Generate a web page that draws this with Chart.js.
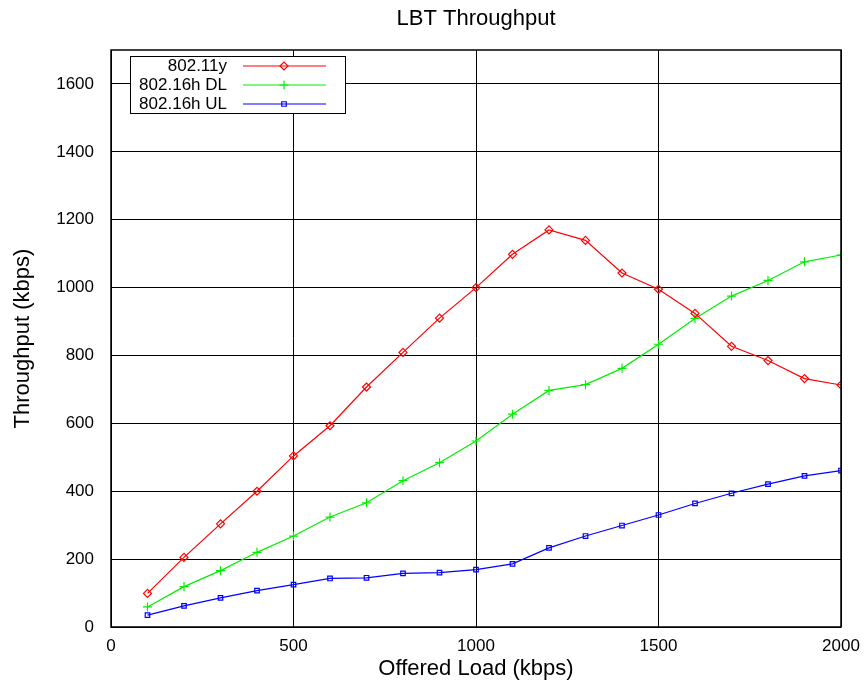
<!DOCTYPE html>
<html>
<head>
<meta charset="utf-8">
<script src="https://cdn.jsdelivr.net/npm/chart.js@4/dist/chart.umd.min.js"></script>
<style>
  html, body { margin: 0; padding: 0; background: #ffffff; }
  canvas { display: block; }
</style>
</head>
<body>
<canvas id="c" width="867" height="688"></canvas>
<script>
// Offered load (kbps)
const offeredLoad = [100, 200, 300, 400, 500, 600, 700, 800, 900, 1000,
                     1100, 1200, 1300, 1400, 1500, 1600, 1700, 1800, 1900, 2000];
// Measured throughput (kbps)
const wifi11y = [99, 205, 304, 400, 504, 593, 707, 809, 910, 1000,
                 1098, 1170, 1139, 1043, 995, 924, 827, 785, 732, 713];
const wimaxDL = [59, 119, 166, 220, 268, 324, 366, 431, 484, 548,
                 627, 697, 714, 762, 833, 909, 975, 1021, 1076, 1096];
const wimaxUL = [35, 62, 86, 107, 125, 143, 145, 158, 160, 169,
                 186, 233, 268, 299, 330, 364, 394, 421, 445, 461];
const seriesNames = ['802.11y', '802.16h DL', '802.16h UL'];
const xTicks = [0, 500, 1000, 1500, 2000];
const yTicks = [0, 200, 400, 600, 800, 1000, 1200, 1400, 1600];

const FONT = '"Liberation Sans", Arial, Helvetica, sans-serif';

function pts(ys) { return offeredLoad.map((x, i) => ({ x: x, y: ys[i] })); }

const styles = [
  { color: '#ff0000', pointStyle: 'rectRot', radius: 4 },
  { color: '#00ee00', pointStyle: 'cross', radius: 4.5 },
  { color: '#0000ff', pointStyle: 'rect', radius: 3.2 }
];

const datasets = [wifi11y, wimaxDL, wimaxUL].map((ys, i) => ({
  label: seriesNames[i],
  data: pts(ys),
  borderColor: styles[i].color,
  backgroundColor: 'rgba(0,0,0,0)',
  borderWidth: 1.2,
  pointStyle: styles[i].pointStyle,
  pointRadius: styles[i].radius,
  pointBorderWidth: 1.2,
  pointBorderColor: styles[i].color,
  pointBackgroundColor: 'rgba(0,0,0,0)',
  tension: 0
}));

// Frame, titles and key drawn on top of the plot
const decorations = {
  id: 'decorations',
  afterDraw(chart) {
    const ctx = chart.ctx;
    const a = chart.chartArea;
    ctx.save();
    // full border around the plot
    ctx.strokeStyle = '#000';
    ctx.lineWidth = 1.5;
    ctx.strokeRect(a.left, a.top, a.right - a.left, a.bottom - a.top);

    // titles
    ctx.fillStyle = '#000';
    ctx.textAlign = 'center';
    ctx.textBaseline = 'middle';
    ctx.font = '22px ' + FONT;
    ctx.fillText('LBT Throughput', (a.left + a.right) / 2, 19);
    ctx.font = '22px ' + FONT;
    ctx.fillText('Offered Load (kbps)', (a.left + a.right) / 2, 669);
    ctx.save();
    ctx.translate(23, (a.top + a.bottom) / 2);
    ctx.rotate(-Math.PI / 2);
    ctx.fillText('Throughput (kbps)', 0, 0);
    ctx.restore();

    // key
    const bx = 130, by = 56, bw = 215, bh = 57;
    ctx.fillStyle = '#fff';
    ctx.fillRect(bx, by, bw, bh);
    ctx.strokeStyle = '#000';
    ctx.lineWidth = 1;
    ctx.strokeRect(bx + 0.5, by + 0.5, bw, bh);
    ctx.font = '17px ' + FONT;
    ctx.textAlign = 'right';
    const rows = [66, 85, 104];
    chart.data.datasets.forEach((ds, i) => {
      const y = rows[i];
      ctx.fillStyle = '#000';
      ctx.fillText(ds.label, 227, y);
      ctx.strokeStyle = ds.borderColor;
      ctx.lineWidth = 1.2;
      ctx.beginPath();
      ctx.moveTo(243, y);
      ctx.lineTo(326, y);
      ctx.stroke();
      ctx.fillStyle = 'rgba(0,0,0,0)';
      Chart.helpers.drawPoint(ctx, {
        pointStyle: ds.pointStyle,
        radius: ds.pointRadius,
        rotation: 0,
        borderWidth: 1.2
      }, 284, y);
    });
    ctx.restore();
  }
};

new Chart(document.getElementById('c'), {
  type: 'line',
  data: { datasets: datasets },
  options: {
    responsive: false,
    animation: false,
    layout: { padding: { top: 50, right: 26, left: 0, bottom: 0 } },
    plugins: {
      legend: { display: false },
      title: { display: false },
      tooltip: { enabled: false }
    },
    scales: {
      x: {
        type: 'linear',
        min: 0,
        max: 2000,
        afterBuildTicks(scale) { scale.ticks = xTicks.map(v => ({ value: v })); },
        afterFit(scale) {
          scale.height = 61;
          scale.paddingLeft = 0;
          scale.paddingRight = 0;
        },
        grid: { color: '#000', lineWidth: 1, drawTicks: false },
        border: { display: false },
        ticks: {
          color: '#000',
          padding: 9,
          maxRotation: 0,
          font: { family: FONT, size: 17 },
          callback: v => String(v)
        }
      },
      y: {
        type: 'linear',
        min: 0,
        max: 1700,
        afterBuildTicks(scale) { scale.ticks = yTicks.map(v => ({ value: v })); },
        afterFit(scale) {
          scale.width = 111;
          scale.paddingTop = 0;
          scale.paddingBottom = 0;
        },
        grid: { color: '#000', lineWidth: 1, drawTicks: false },
        border: { display: false },
        ticks: {
          color: '#000',
          padding: 17,
          font: { family: FONT, size: 17 },
          callback: v => String(v)
        }
      }
    }
  },
  plugins: [decorations]
});
</script>
</body>
</html>
